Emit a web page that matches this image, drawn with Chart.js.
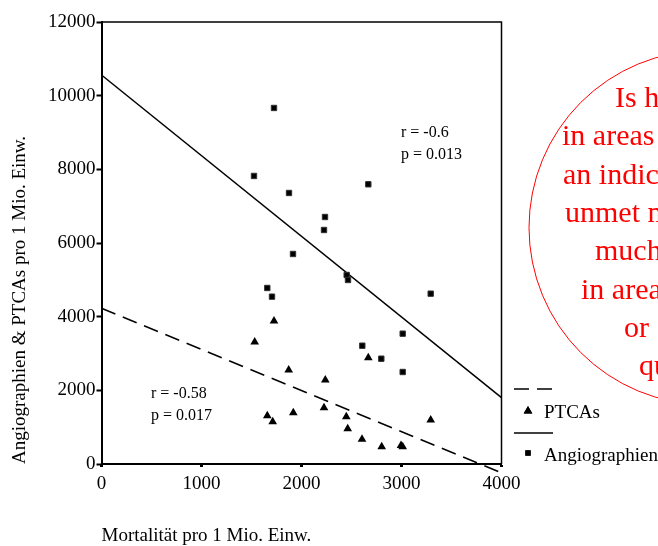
<!DOCTYPE html>
<html>
<head>
<meta charset="utf-8">
<script src="https://cdn.jsdelivr.net/npm/chart.js@4/dist/chart.umd.min.js"></script>
<style>
	html, body { margin: 0; padding: 0; background: #fff; }
	#wrap { width: 658px; height: 546px; position: relative; }
</style>
</head>
<body>
<div id="wrap"><canvas id="myChart" width="658" height="546"></canvas></div>
<script>
// Angiographien (squares)
const angioX = [1525, 1725, 1875, 2235, 2225, 1915, 2668, 2452, 2465, 3292, 3012, 2608, 2798, 3012, 1658, 1705];
const angioY = [7820, 9666, 7358, 6706, 6353, 5702, 7594, 5132, 4996, 4624, 3538, 3212, 2859, 2498, 4779, 4543];
// PTCAs (triangles)
const ptcaX = [1725, 1532, 1872, 2238, 2225, 1918, 1658, 1712, 2668, 2448, 2462, 2605, 2802, 2995, 3012, 3292];
const ptcaY = [3880, 3310, 2550, 2280, 1530, 1390, 1310, 1150, 2885, 1285, 960, 670, 470, 500, 470, 1195];
// regression lines
const fitX = [0, 4000];
const angioFitY = [10560, 1800];
const ptcaFitY = [4227, -240];
const xTicks = [0, 1000, 2000, 3000, 4000];
const yTicks = [0, 2000, 4000, 6000, 8000, 10000, 12000];
const angioStats = ["r = -0.6", "p = 0.013"];
const ptcaStats = ["r = -0.58", "p = 0.017"];
const questionLines = ["Is h", "in areas", "an indic", "unmet n", "much", "in area", "or", "qu"];

const serif = "'Liberation Serif', 'DejaVu Serif', serif";
const toPoints = (xs, ys) => xs.map((x, i) => ({ x: x, y: ys[i] }));

const extras = {
	id: "extras",
	afterDraw: (chart) => {
		const c = chart.ctx;
		const a = chart.chartArea;
		const xs = chart.scales.x;
		const ys = chart.scales.y;
		c.save();
		// frame top / right
		c.strokeStyle = "#000";
		c.lineWidth = 1.5;
		c.beginPath();
		c.moveTo(a.left, a.top);
		c.lineTo(a.right, a.top);
		c.lineTo(a.right, a.bottom);
		c.stroke();

		// r / p annotations
		c.fillStyle = "#000";
		c.font = "16px " + serif;
		c.textAlign = "left";
		c.textBaseline = "alphabetic";
		c.fillText(angioStats[0], xs.getPixelForValue(2995), ys.getPixelForValue(8880));
		c.fillText(angioStats[1], xs.getPixelForValue(2995), ys.getPixelForValue(8290));
		c.fillText(ptcaStats[0], xs.getPixelForValue(495), ys.getPixelForValue(1790));
		c.fillText(ptcaStats[1], xs.getPixelForValue(495), ys.getPixelForValue(1195));

		// legend
		const ds = chart.data.datasets;
		const lx = a.right + 12.5;
		c.font = "19px " + serif;
		c.lineWidth = 1.5;
		c.setLineDash(ds[3].borderDash);
		c.beginPath();
		c.moveTo(lx, 389);
		c.lineTo(lx + 39, 389);
		c.stroke();
		c.setLineDash([]);
		c.beginPath();
		c.moveTo(lx, 433);
		c.lineTo(lx + 39, 433);
		c.stroke();
		Chart.helpers.drawPoint(c, { pointStyle: ds[1].pointStyle, radius: ds[1].pointRadius, borderWidth: 0 }, lx + 14, 411);
		c.fill();
		Chart.helpers.drawPoint(c, { pointStyle: ds[0].pointStyle, radius: ds[0].pointRadius, borderWidth: 0 }, lx + 14, 453);
		c.fill();
		c.fillText(ds[1].label, lx + 30, 418);
		c.fillText(ds[0].label, lx + 30, 461);

		// red question circle
		c.strokeStyle = "#ff0000";
		c.fillStyle = "#ff0000";
		c.lineWidth = 1;
		c.beginPath();
		c.arc(706, 227.5, 177, 0, Math.PI * 2);
		c.stroke();
		c.font = "30px " + serif;
		const starts = [615, 562, 563, 565, 595, 581, 624, 639];
		questionLines.forEach((t, i) => {
			c.fillText(t, starts[i], 107 + i * 38.3);
		});
		c.restore();
	},
};

new Chart(document.getElementById("myChart"), {
	type: "scatter",
	data: {
		datasets: [
			{
				label: "Angiographien",
				data: toPoints(angioX, angioY),
				pointStyle: "rect",
				pointRadius: 3.8,
				backgroundColor: "#000",
				borderColor: "#333",
				borderWidth: 1,
			},
			{
				label: "PTCAs",
				data: toPoints(ptcaX, ptcaY),
				pointStyle: "triangle",
				pointRadius: 5,
				backgroundColor: "#000",
				borderColor: "#000",
				borderWidth: 0,
			},
			{
				type: "line",
				label: "fit angio",
				data: toPoints(fitX, angioFitY),
				borderColor: "#000",
				borderWidth: 1.5,
				pointRadius: 0,
				fill: false,
			},
			{
				type: "line",
				label: "fit ptca",
				data: toPoints(fitX, ptcaFitY),
				borderColor: "#000",
				borderWidth: 1.5,
				borderDash: [15, 8],
				pointRadius: 0,
				fill: false,
				clip: false,
			},
		],
	},
	options: {
		responsive: false,
		animation: false,
		layout: { padding: { left: 0, top: 22, right: 156.5, bottom: 0 } },
		plugins: { legend: { display: false }, tooltip: { enabled: false } },
		scales: {
			x: {
				type: "linear",
				min: 0,
				max: 4000,
				afterFit: (scale) => {
					scale.height = 82;
				},
				afterBuildTicks: (scale) => {
					scale.ticks = xTicks.map((v) => ({ value: v }));
				},
				border: { display: true, color: "#000", width: 2 },
				grid: { drawOnChartArea: false, drawTicks: true, tickLength: 3, tickWidth: 3, tickColor: "#000" },
				ticks: { color: "#000", font: { family: serif, size: 19 }, padding: 6, callback: (v) => String(v) },
				title: {
					display: true,
					text: "Mortalität pro 1 Mio. Einw.",
					align: "start",
					color: "#000",
					font: { family: serif, size: 19 },
					padding: { top: 0, bottom: -1.5 },
				},
			},
			y: {
				type: "linear",
				min: 0,
				max: 12000,
				afterFit: (scale) => {
					scale.width = 101.5;
				},
				afterBuildTicks: (scale) => {
					scale.ticks = yTicks.map((v) => ({ value: v }));
				},
				border: { display: true, color: "#000", width: 2 },
				grid: { drawOnChartArea: false, drawTicks: true, tickLength: 5, tickWidth: 2, tickColor: "#000" },
				ticks: { color: "#000", font: { family: serif, size: 19 }, padding: 1, callback: (v) => String(v) },
				title: {
					display: true,
					text: "Angiographien & PTCAs pro 1 Mio. Einw.",
					align: "start",
					color: "#000",
					font: { family: serif, size: 19 },
					padding: { top: 9, bottom: 0 },
				},
			},
		},
	},
	plugins: [extras],
});
</script>
</body>
</html>
